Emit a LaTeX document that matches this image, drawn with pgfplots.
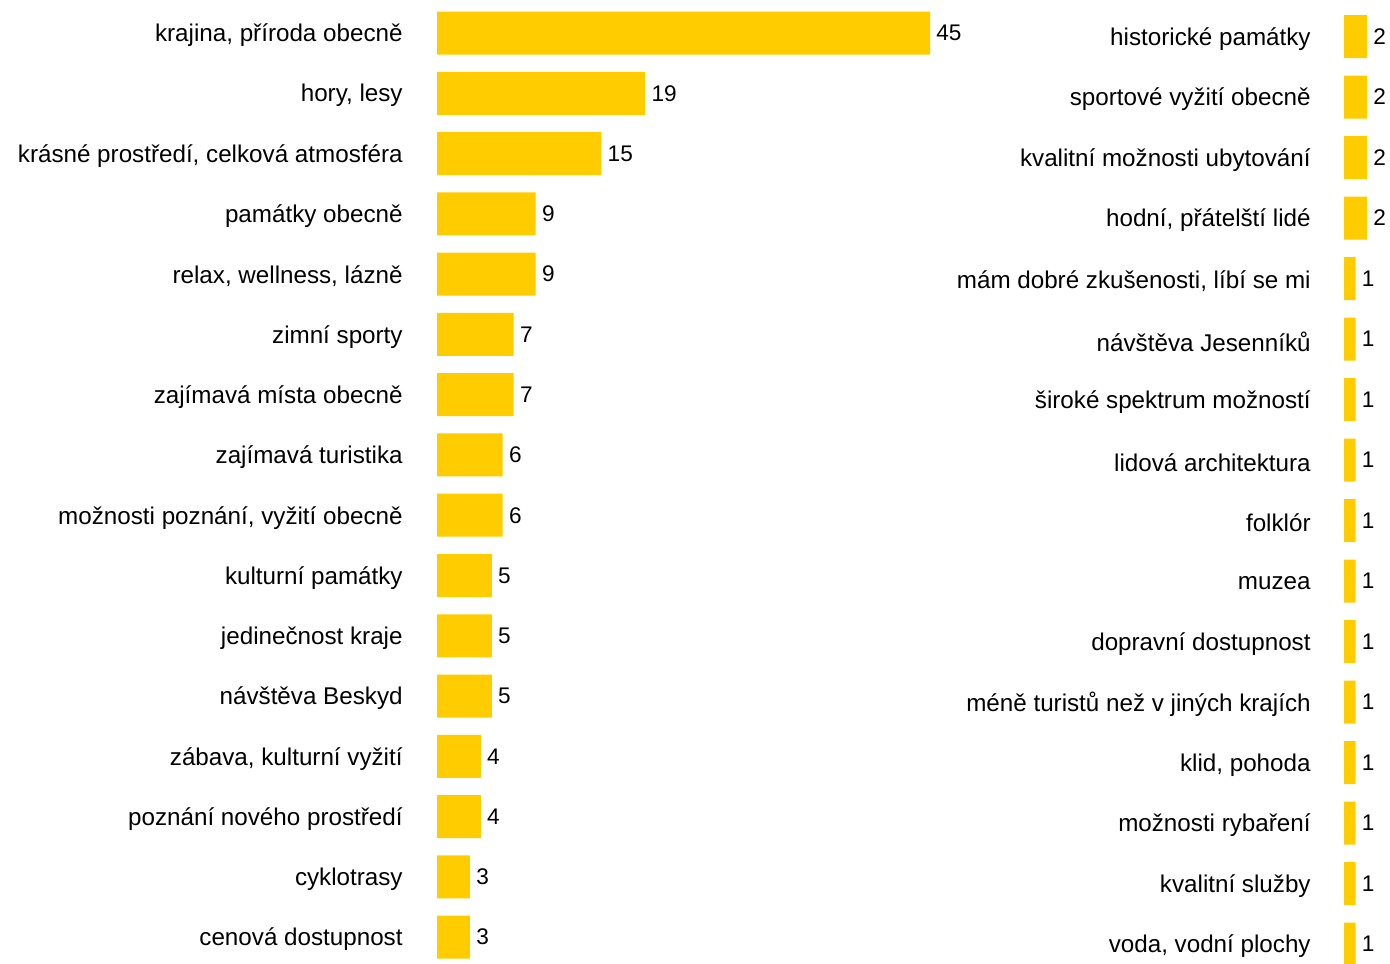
\documentclass[border=0pt]{standalone}
\usepackage{pgfplots}
\pgfplotsset{compat=1.18}
\usepackage{fontspec}
\setmainfont{Liberation Sans}
\definecolor{barc}{HTML}{FFCC00}
\newcommand{\lf}{\fontsize{12.1}{14}\selectfont}
\newcommand{\nf}{\fontsize{11.3}{13}\selectfont}
\pgfplotsset{
  mybars/.style={
    scale only axis, clip=false,
    xbar, bar width=21.5pt,
    xmin=0, ymin=-0.45, ymax=15.45, y dir=reverse,
    xtick=\empty, ytick={0,...,15},
    axis line style={draw=none}, major tick length=0pt, tick style={draw=none},
    yticklabel style={font=\lf, inner sep=0pt, anchor=east, text=black, yshift=-1.2pt},
    nodes near coords,
    /pgf/number format/assume math mode=true,
    nodes near coords style={font=\nf, anchor=west, inner sep=0pt, xshift=3pt, text=black},
  }
}
\begin{document}
\begin{tikzpicture}
\useasboundingbox (0,0) rectangle (695pt,481.5pt);
\begin{axis}[mybars,
  at={(218.5pt,478.55pt)}, anchor=north west,
  width=246.5pt, height=479.2pt, xmax=45,
  yticklabel style={xshift=-17pt},
  yticklabels={{krajina, příroda obecně},{hory, lesy},{krásné prostředí, celková atmosféra},{památky obecně},{relax, wellness, lázně},{zimní sporty},{zajímavá místa obecně},{zajímavá turistika},{možnosti poznání, vyžití obecně},{kulturní památky},{jedinečnost kraje},{návštěva Beskyd},{zábava, kulturní vyžití},{poznání nového prostředí},{cyklotrasy},{cenová dostupnost}},
]
\addplot[fill=barc, draw=none] coordinates {(45,0) (19,1) (15,2) (9,3) (9,4) (7,5) (7,6) (6,7) (6,8) (5,9) (5,10) (5,11) (4,12) (4,13) (3,14) (3,15)};
\end{axis}
\begin{axis}[mybars,
  at={(672pt,476.85pt)}, anchor=north west,
  width=11.5pt, height=481pt, xmax=2,
  yticklabel style={xshift=-16.5pt},
  yticklabels={{historické památky},{sportové vyžití obecně},{kvalitní možnosti ubytování},{hodní, přátelští lidé},{mám dobré zkušenosti, líbí se mi},{návštěva Jesenníků},{široké spektrum možností},{lidová architektura},{folklór},{muzea},{dopravní dostupnost},{méně turistů než v jiných krajích},{klid, pohoda},{možnosti rybaření},{kvalitní služby},{voda, vodní plochy}},
]
\addplot[fill=barc, draw=none] coordinates {(2,0) (2,1) (2,2) (2,3) (1,4) (1,5) (1,6) (1,7) (1,8) (1,9) (1,10) (1,11) (1,12) (1,13) (1,14) (1,15)};
\end{axis}
\end{tikzpicture}
\end{document}
